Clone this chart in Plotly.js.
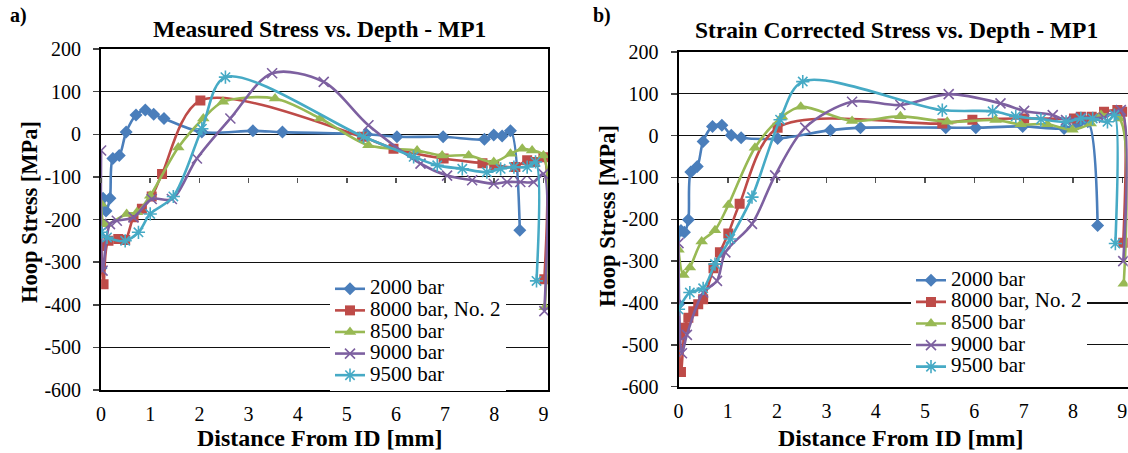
<!DOCTYPE html>
<html><head><meta charset="utf-8">
<script src="https://cdn.plot.ly/plotly-3.0.1.min.js"></script>
<style>html,body{margin:0;padding:0;background:#fff}#chart{width:1128px;height:453px}</style>
</head><body><div id="chart"></div>
<script>
// ---------- DATA ----------
const seriesNames = ['2000 bar', '8000 bar, No. 2', '8500 bar', '9000 bar', '9500 bar'];
const xTickVals = [0, 1, 2, 3, 4, 5, 6, 7, 8, 9];
const xTickText = ['0', '1', '2', '3', '4', '5', '6', '7', '8', '9'];
const yTickVals = [-600, -500, -400, -300, -200, -100, 0, 100, 200];
const yTickText = ['-600', '-500', '-400', '-300', '-200', '-100', '0', '100', '200'];

// (a) Measured stress
const meas2000x = [0, 0.04, 0.1, 0.18, 0.24, 0.37, 0.51, 0.71, 0.9, 1.07, 1.28, 2.05, 3.09, 3.69, 5.4, 6.02, 6.96, 7.8, 7.99, 8.16, 8.33, 8.52];
const meas2000y = [-314, -150, -180, -150, -57, -50, 5, 45, 57, 47, 37, 5, 8, 5, 0, -6, -6, -12, -2, -4, 8, -225];
const meas8000x = [0, 0.05, 0.15, 0.35, 0.49, 0.66, 0.83, 1.03, 1.24, 2.02, 5.31, 5.95, 6.97, 7.76, 8.0, 8.43, 8.67, 8.82, 9.0, 9.02];
const meas8000y = [-262, -352, -250, -246, -248, -195, -175, -146, -93, 79, -6, -34, -57, -68, -72, -77, -61, -65, -54, -340];
const meas8500x = [0, 0.08, 0.52, 0.73, 1.0, 1.57, 2.08, 2.48, 3.54, 4.46, 5.44, 6.43, 6.94, 7.48, 7.99, 8.33, 8.57, 8.77, 9.0, 9.03];
const meas8500y = [-163, -211, -187, -183, -144, -31, 37, 76, 84, 37, -26, -38, -50, -50, -65, -46, -34, -38, -50, -406];
const meas9000x = [0, 0.03, 0.18, 0.32, 0.66, 1.03, 1.44, 1.95, 2.63, 3.48, 4.53, 5.44, 6.5, 7.04, 7.55, 7.99, 8.26, 8.53, 8.8, 9.0, 9.02];
const meas9000y = [-38, -320, -211, -203, -195, -152, -152, -57, 37, 143, 123, 21, -69, -97, -108, -116, -112, -112, -112, -93, -415];
const meas9500x = [0, 0.12, 0.49, 0.76, 1.0, 1.47, 2.05, 2.53, 5.34, 6.36, 6.84, 7.35, 7.85, 8.13, 8.4, 8.67, 8.84, 8.86];
const meas9500y = [-230, -242, -250, -230, -187, -146, 13, 134, -6, -53, -73, -81, -89, -81, -77, -77, -65, -344];

// (b) Strain corrected stress
const corr2000x = [0, 0.05, 0.12, 0.2, 0.25, 0.38, 0.5, 0.69, 0.88, 1.07, 1.27, 2.01, 3.08, 3.69, 5.42, 6.03, 6.98, 7.82, 8.1, 8.3, 8.5];
const corr2000y = [-403, -227, -231, -201, -87, -74, -14, 22, 25, 1, -5, -7, 13, 19, 19, 19, 22, 17, 28, 33, -215];
const corr8000x = [0, 0.05, 0.13, 0.2, 0.3, 0.4, 0.5, 0.71, 0.84, 1.01, 1.24, 2.01, 5.35, 5.96, 7.01, 8.02, 8.16, 8.38, 8.63, 8.9, 9.0, 9.02];
const corr8000y = [-477, -565, -459, -435, -420, -403, -391, -317, -279, -234, -163, 19, 29, 38, 41, 41, 45, 45, 57, 61, 57, -256];
const corr8500x = [0, 0.1, 0.23, 0.47, 0.74, 1.01, 1.55, 2.1, 2.48, 3.52, 4.5, 5.45, 6.43, 6.94, 7.48, 7.99, 8.36, 8.57, 8.94, 9.03];
const corr8500y = [-273, -333, -315, -253, -226, -166, -29, 45, 69, 35, 46, 33, 37, 27, 27, 14, 29, 49, 41, -354];
const corr9000x = [0, 0.07, 0.17, 0.5, 0.78, 0.95, 1.49, 1.96, 2.57, 3.52, 4.5, 5.48, 6.53, 7.01, 7.59, 7.86, 8.16, 8.63, 8.97, 9.02];
const corr9000y = [-257, -520, -476, -375, -347, -279, -211, -95, 19, 81, 73, 99, 77, 59, 49, 37, 43, 43, 61, -300];
const corr9500x = [0, 0.23, 0.5, 0.74, 1.05, 1.49, 2.06, 2.52, 5.35, 6.37, 6.84, 7.35, 7.86, 8.16, 8.4, 8.7, 8.84, 8.86];
const corr9500y = [-415, -375, -365, -307, -247, -147, 38, 129, 61, 58, 46, 39, 33, 41, 41, 33, 49, -258];

// ---------- STYLE ----------
const FONT = '"Liberation Serif", "Times New Roman", Times, serif';
const colors = ['#4A7EBB', '#BE4B48', '#98B954', '#7D60A0', '#46AAC5'];
const symbols = ['diamond', 'square', 'triangle-up', 'x-thin-open', 'asterisk-open'];
const msizes = [10, 10, 11, 10, 11];
const mlw = [0, 0, 0, 1.6, 1.6];

function mk(x, y, i, xa, ya, leg) {
  return {
    type: 'scatter', mode: 'lines+markers', x: x, y: y, xaxis: xa, yaxis: ya, legend: leg,
    name: '<span style="font-size:21px">' + seriesNames[i] + '</span>',
    line: {color: colors[i], width: 2.6, shape: 'spline', smoothing: 0.9},
    marker: {symbol: symbols[i], size: msizes[i], color: colors[i], line: {color: colors[i], width: mlw[i]}}
  };
}

const left = [[meas2000x, meas2000y], [meas8000x, meas8000y], [meas8500x, meas8500y], [meas9000x, meas9000y], [meas9500x, meas9500y]];
const right = [[corr2000x, corr2000y], [corr8000x, corr8000y], [corr8500x, corr8500y], [corr9000x, corr9000y], [corr9500x, corr9500y]];

const traces = [];
left.forEach((s, i) => traces.push(mk(s[0], s[1], i, 'x', 'y', 'legend')));
right.forEach((s, i) => traces.push(mk(s[0], s[1], i, 'x2', 'y2', 'legend2')));
// helper (empty) traces so the tick-mark axes crossing at -100 are drawn
traces.push({type: 'scatter', x: [null], y: [null], xaxis: 'x3', yaxis: 'y', showlegend: false, hoverinfo: 'skip'});
traces.push({type: 'scatter', x: [null], y: [null], xaxis: 'x4', yaxis: 'y2', showlegend: false, hoverinfo: 'skip'});

const W = 1128, H = 453;
const yRange = [-600, 200];
const xRangeL = [0, 9.1], xRangeR = [0, 9.11];
const domXL = [101.1 / W, 548.3 / W], domYL = [(H - 390) / H, (H - 49) / H];
const domXR = [678.5 / W, 1127.7 / W], domYR = [(H - 386.7) / H, (H - 51.9) / H];
const cross = -100;
function posAt(dom, v) { return dom[0] + (v - yRange[0]) / (yRange[1] - yRange[0]) * (dom[1] - dom[0]); }

function tickFont() { return {family: FONT, size: 20, color: '#000'}; }
function xax(dom, rng, anchor) {
  return {domain: dom, range: rng, anchor: anchor, tickvals: xTickVals, ticktext: xTickText, ticks: '',
    showline: true, mirror: true, linecolor: '#000', linewidth: 2, showgrid: false, zeroline: false,
    tickfont: tickFont(), ticklabelstandoff: 5, fixedrange: true};
}
function yax(dom, anchor) {
  return {domain: dom, range: yRange, anchor: anchor, tickvals: yTickVals, ticktext: yTickText,
    ticks: 'outside', ticklen: 6, tickwidth: 1.5, tickcolor: '#444',
    showline: true, mirror: true, linecolor: '#000', linewidth: 2,
    showgrid: true, gridcolor: '#111', gridwidth: 1.2, zeroline: false,
    tickfont: tickFont(), ticklabelstandoff: 8, fixedrange: true};
}
function tickAx(over, rng, pos) {
  return {overlaying: over, anchor: 'free', position: pos, range: rng, tickvals: xTickVals,
    ticks: 'outside', ticklen: 5, tickwidth: 1.5, tickcolor: '#555', showticklabels: false,
    showline: false, showgrid: false, zeroline: false, fixedrange: true};
}

function ann(text, xpx, ypx, size, angle, anchor) {
  return {text: text, xref: 'paper', yref: 'paper', x: xpx / W, y: (H - ypx) / H,
    xanchor: anchor || 'center', yanchor: 'middle', showarrow: false, textangle: angle || 0,
    font: {family: FONT, size: size, color: '#000'}};
}

function legendAt(xpx, ypx, fs) {
  return {font: {family: FONT, size: fs, color: '#000'}, bgcolor: '#fff', borderwidth: 0,
    xanchor: 'left', yanchor: 'top', xref: 'paper', yref: 'paper', tracegroupgap: 0, itemwidth: 30,
    x: xpx / W, y: (H - ypx) / H};
}

const layout = {
  width: W, height: H, margin: {l: 0, r: 0, t: 0, b: 0},
  font: {family: FONT, color: '#000'},
  paper_bgcolor: '#fff', plot_bgcolor: '#fff',
  xaxis: xax(domXL, xRangeL, 'y'), yaxis: yax(domYL, 'x'),
  xaxis2: xax(domXR, xRangeR, 'y2'), yaxis2: yax(domYR, 'x2'),
  xaxis3: tickAx('x', xRangeL, posAt(domYL, cross)),
  xaxis4: tickAx('x2', xRangeR, posAt(domYR, cross)),
  legend: legendAt(330, 273, 14.3),
  legend2: legendAt(911, 264.5, 14.3),
  showlegend: true,
  annotations: [
    ann('<b>a)</b>', 8, 16, 20, 0, 'left'),
    ann('<b>b)</b>', 591, 16, 20, 0, 'left'),
    ann('<b>Measured Stress vs. Depth - MP1</b>', 319, 29, 23.5),
    ann('<b>Strain Corrected Stress vs. Depth - MP1</b>', 896, 30, 23.5),
    ann('<b>Hoop Stress [MPa]</b>', 30, 212, 22.5, -90),
    ann('<b>Hoop Stress [MPa]</b>', 607, 216, 22.5, -90),
    ann('<b>Distance From ID [mm]</b>', 320, 438, 24),
    ann('<b>Distance From ID [mm]</b>', 901, 438, 24)
  ]
};

Plotly.newPlot('chart', traces, layout, {staticPlot: true, displayModeBar: false});
</script>
</body></html>
